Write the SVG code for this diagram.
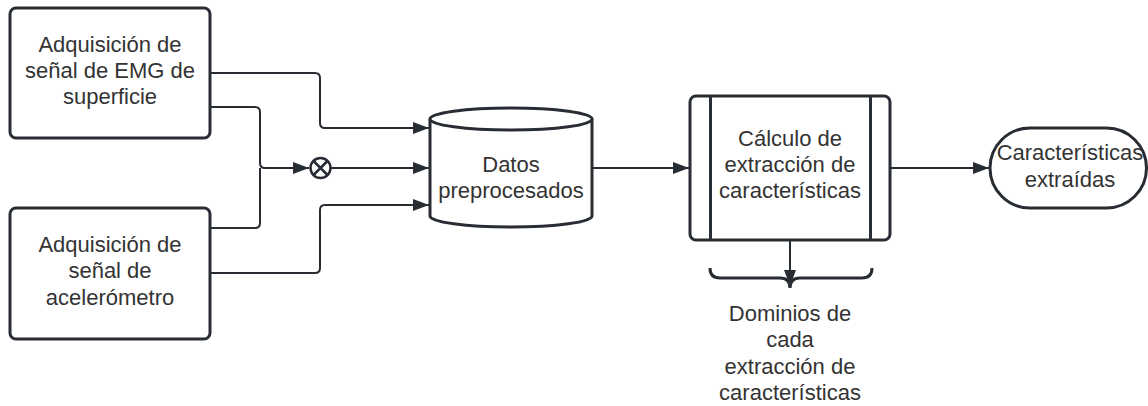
<svg xmlns="http://www.w3.org/2000/svg" width="1148" height="406" viewBox="0 0 1148 406">
<style>
.shape{fill:#ffffff;stroke:#282c33;stroke-width:3;}
.line{fill:none;stroke:#282c33;stroke-width:2;}
.arr{marker-end:url(#ah);}
text{font-family:"Liberation Sans",Arial,sans-serif;font-size:22px;fill:#333333;text-anchor:middle;}
</style>
<defs>
<marker id="ah" viewBox="0 0 16 12" refX="16" refY="6" markerWidth="16" markerHeight="12" markerUnits="userSpaceOnUse" orient="auto">
<path d="M0,0 L16,6 L0,12 Z" fill="#282c33"/>
</marker>
</defs>
<rect width="1148" height="406" fill="#ffffff"/>
<g id="connectors">
<path class="line arr" d="M210,73 H315 Q320,73 320,78 V123 Q320,128 325,128 H429"/>
<path class="line arr" d="M210,107 H255 Q260,107 260,112 V163 Q260,168 265,168 H309"/>
<path class="line" d="M210,228 H255 Q260,228 260,223 V168"/>
<path class="line arr" d="M210,273 H315 Q320,273 320,268 V210 Q320,205 325,205 H429"/>
<path class="line arr" d="M331,168 H429"/>
<path class="line arr" d="M592,168 H689"/>
<path class="line arr" d="M890,168 H989"/>
<path class="line arr" d="M790,241 V286"/>
</g>
<g id="emg">
<rect class="shape" x="10" y="8" width="200" height="130" rx="6"/>
<text x="110" y="52">Adquisición de</text>
<text x="110" y="78">señal de EMG de</text>
<text x="110" y="104">superficie</text>
</g>
<g id="acel">
<rect class="shape" x="10" y="208" width="200" height="131" rx="6"/>
<text x="110" y="252">Adquisición de</text>
<text x="110" y="278">señal de</text>
<text x="110" y="305">acelerómetro</text>
</g>
<g id="mult">
<circle cx="320.5" cy="168" r="10" fill="#ffffff" stroke="#282c33" stroke-width="2.5"/>
<path d="M313.5,161 L327.5,175 M327.5,161 L313.5,175" stroke="#282c33" stroke-width="2.5" fill="none"/>
</g>
<g id="datos">
<path class="shape" d="M430,119 A81,11 0 0 1 592,119 V216 A81,11 0 0 1 430,216 Z"/>
<path class="shape" fill="none" d="M430,119 A81,11 0 0 0 592,119"/>
<text x="511" y="172">Datos</text>
<text x="511" y="198">preprocesados</text>
</g>
<g id="calculo">
<rect class="shape" x="690" y="96" width="200" height="144" rx="6"/>
<path class="line" style="stroke-width:3" d="M710.5,96 V240 M870.5,96 V240"/>
<text x="790" y="146">Cálculo de</text>
<text x="790" y="172">extracción de</text>
<text x="790" y="198">características</text>
</g>
<g id="caracteristicas">
<rect class="shape" x="990" y="128" width="156.5" height="80" rx="40"/>
<text x="1070" y="160">Características</text>
<text x="1070" y="187">extraídas</text>
</g>
<g id="dominios">
<path class="line" style="stroke-width:3" d="M710,268 Q710,278 720,278 L780,278 Q790,278 790,288 Q790,278 800,278 L862,278 Q872,278 872,268"/>
<text x="790" y="321">Dominios de</text>
<text x="790" y="347">cada</text>
<text x="790" y="374">extracción de</text>
<text x="790" y="400">características</text>
</g>
</svg>
